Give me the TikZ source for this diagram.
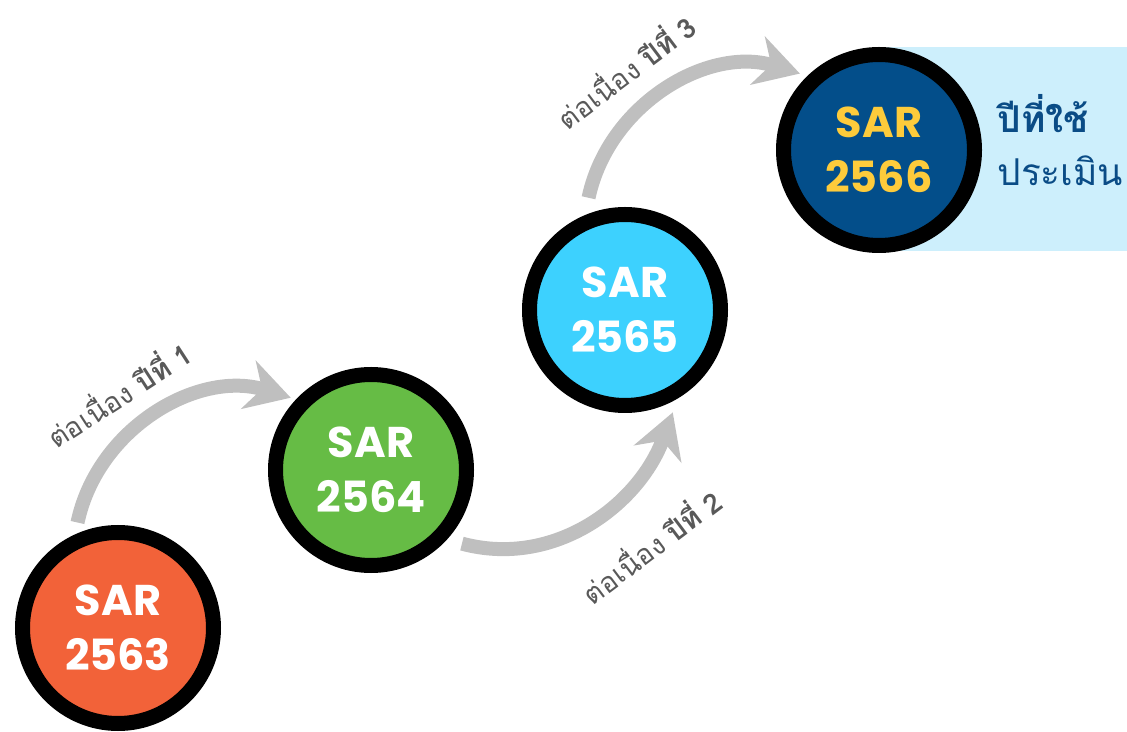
\documentclass[tikz,border=0pt]{standalone}
\usepackage{fontspec}
\usetikzlibrary{arrows.meta,calc}
\newfontfamily\thaifont[Script=Thai]{Loma}
\newfontfamily\popfont{Poppins}
\definecolor{sarorange}{HTML}{F26239}
\definecolor{sargreen}{HTML}{66BC45}
\definecolor{sarcyan}{HTML}{3DD1FE}
\definecolor{sarnavy}{HTML}{034E8A}
\definecolor{saryellow}{HTML}{FDCB3B}
\definecolor{arrowgray}{HTML}{BFBFBF}
\definecolor{labelgray}{HTML}{595959}
\definecolor{panelblue}{HTML}{CDEFFC}
\definecolor{textnavy}{HTML}{0A4C86}
\tikzset{
  sarcircle/.style={circle, draw=black, line width=15pt, minimum size=191pt, inner sep=0pt,
    font=\popfont\bfseries\fontsize{43}{55}\selectfont, align=center, text=white},
  flow/.style={draw=arrowgray, line width=14pt, -{Stealth[length=44pt,width=50pt,inset=14pt]}},
  yearlabel/.style={font=\thaifont\fontsize{28}{32}\selectfont, text=labelgray, inner sep=0pt}
}
\begin{document}
\begin{tikzpicture}[x=1pt,y=1pt]
\useasboundingbox (0,0) rectangle (1127,731);
\fill[panelblue] (880,480) rectangle (1127,684);
\node[sarcircle, fill=sarorange] (c1) at (118,103) {SAR\\2563};
\node[sarcircle, fill=sargreen] (c2) at (371,261) {SAR\\2564};
\node[sarcircle, fill=sarcyan] (c3) at (625,421) {SAR\\2565};
\node[sarcircle, fill=sarnavy, text=saryellow] (c4) at (879,581) {SAR\\2566};
\node[anchor=west, align=left, text=textnavy, font=\thaifont\fontsize{37}{53}\selectfont] (t4) at (994,591) {\textbf{ปีที่ใช้}\\ประเมิน};
\draw[flow] ($(c1)+(111:113)$) to[out=78,in=163] ($(c2)+(138:108)$);
\draw[flow] ($(c2)+(-39:117)$) to[out=-15,in=250] ($(c3)+(-65:113)$);
\draw[flow] ($(c3)+(108:118)$) to[out=78,in=163] ($(c4)+(136:110)$);
\node[yearlabel, rotate=33] (l1) at (118,338) {ต่อเนื่อง \textbf{ปีที่ 1}};
\node[yearlabel, rotate=37] (l2) at (650,186) {ต่อเนื่อง \textbf{ปีที่ 2}};
\node[yearlabel, rotate=37] (l3) at (625,661) {ต่อเนื่อง \textbf{ปีที่ 3}};
\end{tikzpicture}
\end{document}
